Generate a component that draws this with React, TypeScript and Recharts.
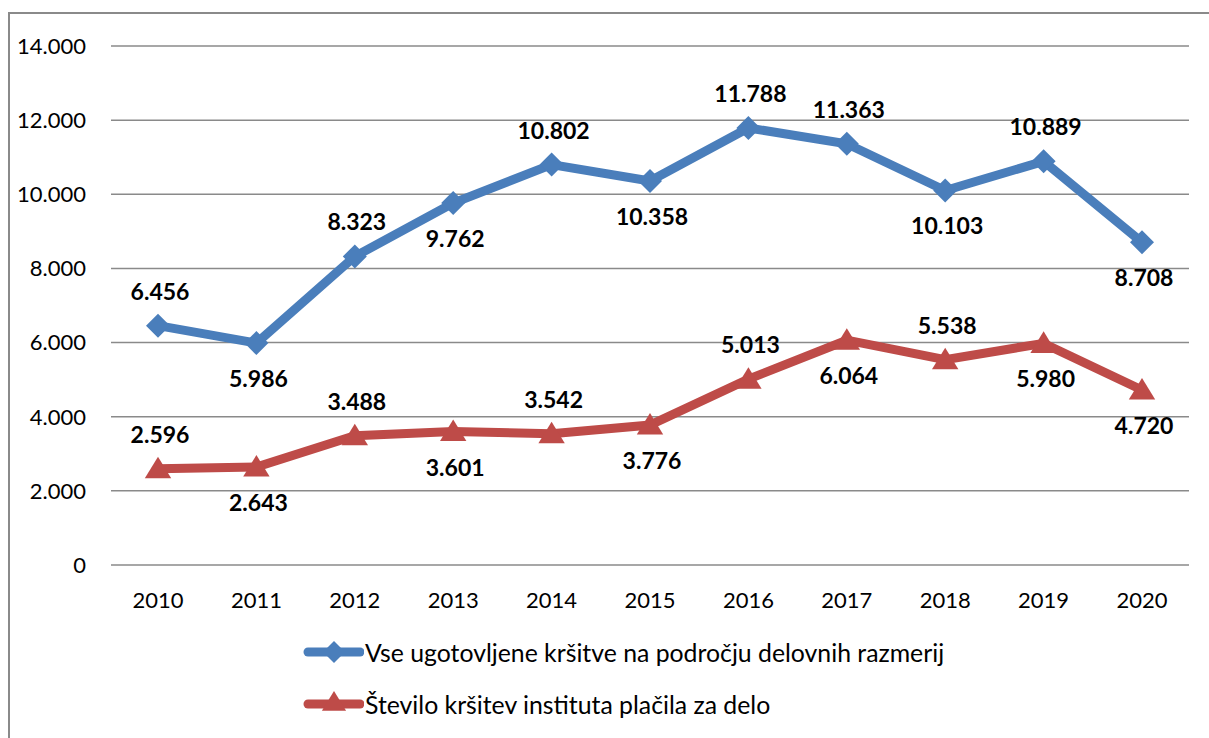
import * as React from 'react';
import { LineChart, Line, XAxis, YAxis, CartesianGrid } from 'recharts';

const years = ['2010', '2011', '2012', '2013', '2014', '2015', '2016', '2017', '2018', '2019', '2020'];
const allViolations = [6456, 5986, 8323, 9762, 10802, 10358, 11788, 11363, 10103, 10889, 8708];
const paymentViolations = [2596, 2643, 3488, 3601, 3542, 3776, 5013, 6064, 5538, 5980, 4720];
const yTicks = [0, 2000, 4000, 6000, 8000, 10000, 12000, 14000];

const SERIES_A = 'Vse ugotovljene kršitve na področju delovnih razmerij';
const SERIES_B = 'Število kršitev instituta plačila za delo';

// label placement per point (above / below the marker)
const placeA = ['up', 'down', 'up', 'down', 'up', 'down', 'up', 'up', 'down', 'up', 'down'];
const placeB = ['up', 'down', 'up', 'down', 'up', 'down', 'up', 'down', 'up', 'down', 'down'];

const BLUE = '#4a7ebb';
const RED = '#be4b48';
const FONT = 'Lato, "Open Sans", sans-serif';

const data = years.map((year, i) => ({
  year,
  a: allViolations[i],
  b: paymentViolations[i],
}));

const fmt = (v: number) => String(v).replace(/\B(?=(\d{3})+(?!\d))/g, '.');

const diamond = (cx: number, cy: number, r: number) =>
  `${cx},${cy - r} ${cx + r},${cy} ${cx},${cy + r} ${cx - r},${cy}`;
const triangle = (cx: number, cy: number, r: number) =>
  `${cx},${cy - r} ${cx + r * 1.1},${cy + r * 0.8} ${cx - r * 1.1},${cy + r * 0.8}`;

const renderDiamond = (props: any) => (
  <polygon key={`da-${props.index}`} points={diamond(props.cx, props.cy, 12)} fill={BLUE} />
);
const renderTriangle = (props: any) => (
  <polygon key={`db-${props.index}`} points={triangle(props.cx, props.cy, 12)} fill={RED} />
);

const makeLabel = (placement: string[]) => (props: any) => {
  const { x, y, value, index } = props;
  const dy = placement[index] === 'up' ? -35 : 35;
  return (
    <text
      key={`l-${index}`}
      x={x + 2}
      y={y + dy}
      textAnchor="middle"
      dominantBaseline="central"
      fontFamily={FONT}
      fontWeight={700}
      fontSize={23}
      fill="#000"
    >
      {fmt(value)}
    </text>
  );
};

const legendItems = [
  { name: SERIES_A, color: BLUE, shape: 'diamond' },
  { name: SERIES_B, color: RED, shape: 'triangle' },
];

function ChartLegend(): React.JSX.Element {
  return (
    <div style={{ position: 'absolute', left: 300, top: 626, fontFamily: FONT, fontSize: 24.8, color: '#000' }}>
      {legendItems.map((s) => (
        <div key={s.name} style={{ display: 'flex', alignItems: 'center', height: 52, whiteSpace: 'nowrap' }}>
          <svg width={64} height={30} style={{ marginRight: 1 }}>
            <line x1={8} y1={15} x2={60} y2={15} stroke={s.color} strokeWidth={9} strokeLinecap="round" />
            {s.shape === 'diamond' ? (
              <polygon points={diamond(34, 15, 11)} fill={s.color} />
            ) : (
              <polygon points={triangle(34, 13, 11)} fill={s.color} />
            )}
          </svg>
          <span>{s.name}</span>
        </div>
      ))}
    </div>
  );
}

export default function App(): React.JSX.Element {
  return (
    <div style={{ position: 'absolute', left: 0, top: 0, width: 1209, height: 738, overflow: 'hidden', background: '#fff' }}>
      <div
        style={{
          position: 'absolute',
          left: 8,
          top: 12,
          width: 1400,
          height: 900,
          borderLeft: '2px solid #8a8a8a',
          borderTop: '2px solid #8a8a8a',
        }}
      />
      <div style={{ position: 'absolute', left: 0, top: 0 }}>
        <LineChart
          width={1209}
          height={738}
          data={data}
          margin={{ top: 46, right: 20, left: 0, bottom: 133 }}
        >
          <CartesianGrid vertical={false} stroke="#8a8a8a" strokeWidth={1.5} />
          <XAxis
            dataKey="year"
            axisLine={false}
            tickLine={false}
            tickSize={0}
            tickMargin={27}
            height={40}
            padding={{ left: 47, right: 47 }}
            tick={{ fill: '#000', fontSize: 22, fontFamily: FONT }}
          />
          <YAxis
            domain={[0, 14000]}
            ticks={yTicks}
            width={111}
            axisLine={false}
            tickLine={false}
            tickSize={0}
            tickMargin={25}
            tickFormatter={fmt}
            tick={{ fill: '#000', fontSize: 22, fontFamily: FONT }}
          />
          <Line
            dataKey="a"
            name={SERIES_A}
            stroke={BLUE}
            strokeWidth={9}
            dot={renderDiamond}
            activeDot={false}
            label={makeLabel(placeA)}
            isAnimationActive={false}
          />
          <Line
            dataKey="b"
            name={SERIES_B}
            stroke={RED}
            strokeWidth={9}
            dot={renderTriangle}
            activeDot={false}
            label={makeLabel(placeB)}
            isAnimationActive={false}
          />
        </LineChart>
      </div>
      <ChartLegend />
    </div>
  );
}
